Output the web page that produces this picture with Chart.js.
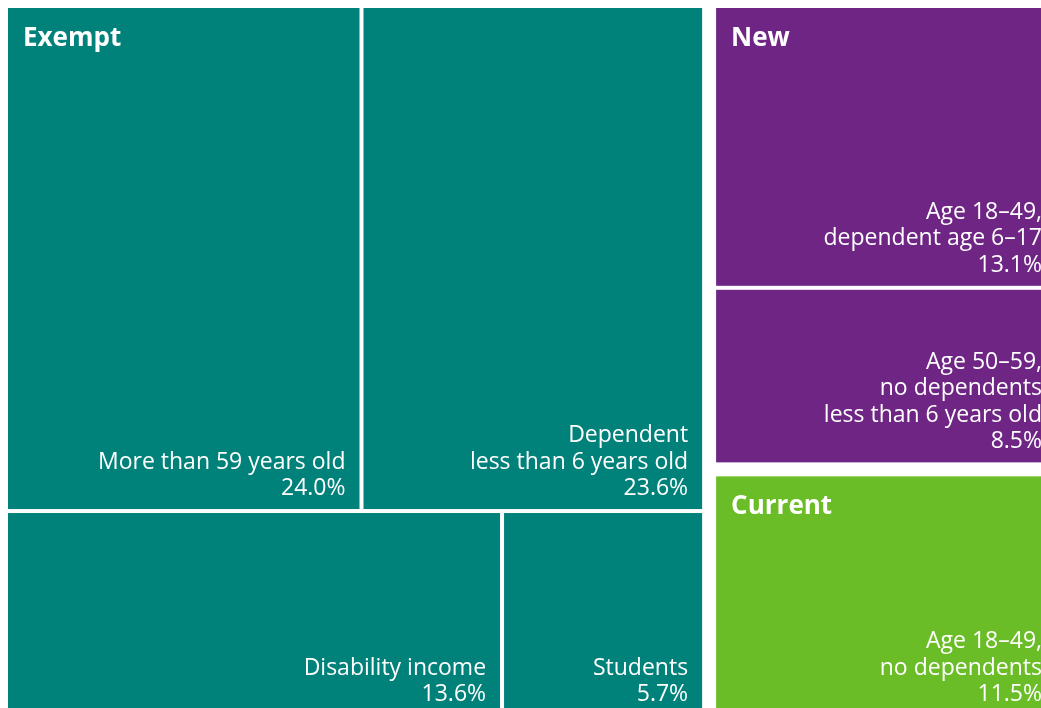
<!DOCTYPE html>
<html lang="en">
<head>
    <meta charset="UTF-8">
    <title>Adults by work requirement status</title>
    <script src="https://cdn.jsdelivr.net/npm/chart.js@4.4.2/dist/chart.umd.min.js"></script>
    <style>
        html, body {
          margin: 0;
          padding: 0;
          overflow: hidden;
          background: #fff;}
        #wrap {
          width: 1056px;
          height: 715px;}
    </style>
</head>
<body>
    <div id="wrap"><canvas id="treeChart"></canvas></div>

<script>
    // Groups (outer boxes) and their member categories
    const groups = ['Exempt', 'New', 'Current'];
    const categoryLabels = [
        ['More than 59 years old'],
        ['Dependent', 'less than 6 years old'],
        ['Disability income'],
        ['Students'],
        ['Age 18\u201349,', 'dependent age 6\u201317'],
        ['Age 50\u201359,', 'no dependents', 'less than 6 years old'],
        ['Age 18\u201349,', 'no dependents']
    ];
    const categoryGroup = ['Exempt', 'Exempt', 'Exempt', 'Exempt', 'New', 'New', 'Current'];
    const shares = [24.0, 23.6, 13.6, 5.7, 13.1, 8.5, 11.5];

    const groupColors = {Exempt: '#00827a', New: '#6e2584', Current: '#6bbd28'};

    // squarified layout; rect is in data units, sx/sy are pixels per unit
    function squarify(values, rect, sx, sy) {
        const total = values.reduce((a, b) => a + b, 0);
        const areaPx = rect.w * sx * rect.h * sy;
        const items = values.map((v, i) => ({i: i, a: v / total * areaPx}));
        const out = [];
        let r = {x: rect.x, y: rect.y, w: rect.w, h: rect.h};

        function worst(row, side) {
            const s = row.reduce((a, b) => a + b.a, 0);
            const mx = Math.max(...row.map(d => d.a));
            const mn = Math.min(...row.map(d => d.a));
            return Math.max(side * side * mx / (s * s), s * s / (side * side * mn));
        }

        let k = 0;
        while (k < items.length) {
            const wPx = r.w * sx, hPx = r.h * sy;
            const side = Math.min(wPx, hPx);
            const row = [items[k]];
            k++;
            while (k < items.length && worst(row.concat([items[k]]), side) <= worst(row, side)) {
                row.push(items[k]);
                k++;
            }
            const s = row.reduce((a, b) => a + b.a, 0);
            if (wPx >= hPx) {
                // column on the left
                const colW = s / hPx;
                let y = r.y;
                row.forEach(d => {
                    const hh = d.a / colW / sy;
                    out[d.i] = {x: r.x, y: y, w: colW / sx, h: hh};
                    y += hh;
                });
                r = {x: r.x + colW / sx, y: r.y, w: r.w - colW / sx, h: r.h};
            } else {
                // row along the top
                const rowH = s / wPx;
                let x = r.x;
                row.forEach(d => {
                    const ww = d.a / rowH / sx;
                    out[d.i] = {x: x, y: r.y, w: ww, h: rowH / sy};
                    x += ww;
                });
                r = {x: r.x, y: r.y + rowH / sy, w: r.w, h: r.h - rowH / sy};
            }
        }
        return out;
    }

    const treemapPlugin = {
        id: 'treemapCells',
        beforeDatasetsDraw(chart) {
            const ctx = chart.ctx;
            const xs = chart.scales.x, ys = chart.scales.y;
            const sx = chart.chartArea.width / (xs.max - xs.min);
            const sy = chart.chartArea.height / (ys.max - ys.min);
            const full = {x: xs.min, y: ys.min, w: xs.max - xs.min, h: ys.max - ys.min};

            const groupTotals = groups.map(g =>
                shares.filter((v, i) => categoryGroup[i] === g).reduce((a, b) => a + b, 0));
            const groupRects = squarify(groupTotals, full, sx, sy);

            const near = (a, b) => Math.abs(a - b) < 1e-6;
            const groupGap = 7, cellGap = 2;

            groups.forEach((g, gi) => {
                const gr = groupRects[gi];
                const idx = shares.map((v, i) => i).filter(i => categoryGroup[i] === g);
                const cells = squarify(idx.map(i => shares[i]), gr, sx, sy);

                // inset for one side of a cell
                function pad(v, gEdge, dEdge) {
                    if (near(v, dEdge)) return 0;
                    if (near(v, gEdge)) return groupGap;
                    return cellGap;
                }

                cells.forEach((c, n) => {
                    const i = idx[n];
                    const x0 = xs.getPixelForValue(c.x) + pad(c.x, gr.x, full.x);
                    const x1 = xs.getPixelForValue(c.x + c.w) - pad(c.x + c.w, gr.x + gr.w, full.x + full.w);
                    const y0 = ys.getPixelForValue(c.y) + pad(c.y, gr.y, full.y);
                    const y1 = ys.getPixelForValue(c.y + c.h) - pad(c.y + c.h, gr.y + gr.h, full.y + full.h);

                    ctx.save();
                    ctx.fillStyle = groupColors[g];
                    ctx.fillRect(x0, y0, x1 - x0, y1 - y0);

                    ctx.fillStyle = '#fff';
                    ctx.textBaseline = 'alphabetic';
                    if (n === 0) {
                        ctx.font = 'bold 26px "Open Sans"';
                        ctx.textAlign = 'left';
                        ctx.fillText(g, x0 + 15, y0 + 38);
                    }
                    const lines = categoryLabels[i].concat([shares[i].toFixed(1) + '%']);
                    ctx.font = '23px "Open Sans"';
                    ctx.textAlign = 'right';
                    lines.forEach((t, k) => {
                        ctx.fillText(t, x1 - 14, y1 - 14 - (lines.length - 1 - k) * 26.5);
                    });
                    ctx.restore();
                });
            });
        }
    };

    new Chart(document.getElementById('treeChart'), {
        type: 'scatter',
        data: {datasets: [{data: []}]},
        options: {
            responsive: true,
            maintainAspectRatio: false,
            animation: false,
            layout: {padding: {left: 8, top: 8, right: 0, bottom: 0}},
            scales: {
                x: {type: 'linear', min: 0, max: 100, display: false},
                y: {type: 'linear', min: 0, max: 100, reverse: true, display: false}},
            plugins: {
                legend: {display: false},
                tooltip: {enabled: false}}},
        plugins: [treemapPlugin]
    });
</script>
</body>
</html>
